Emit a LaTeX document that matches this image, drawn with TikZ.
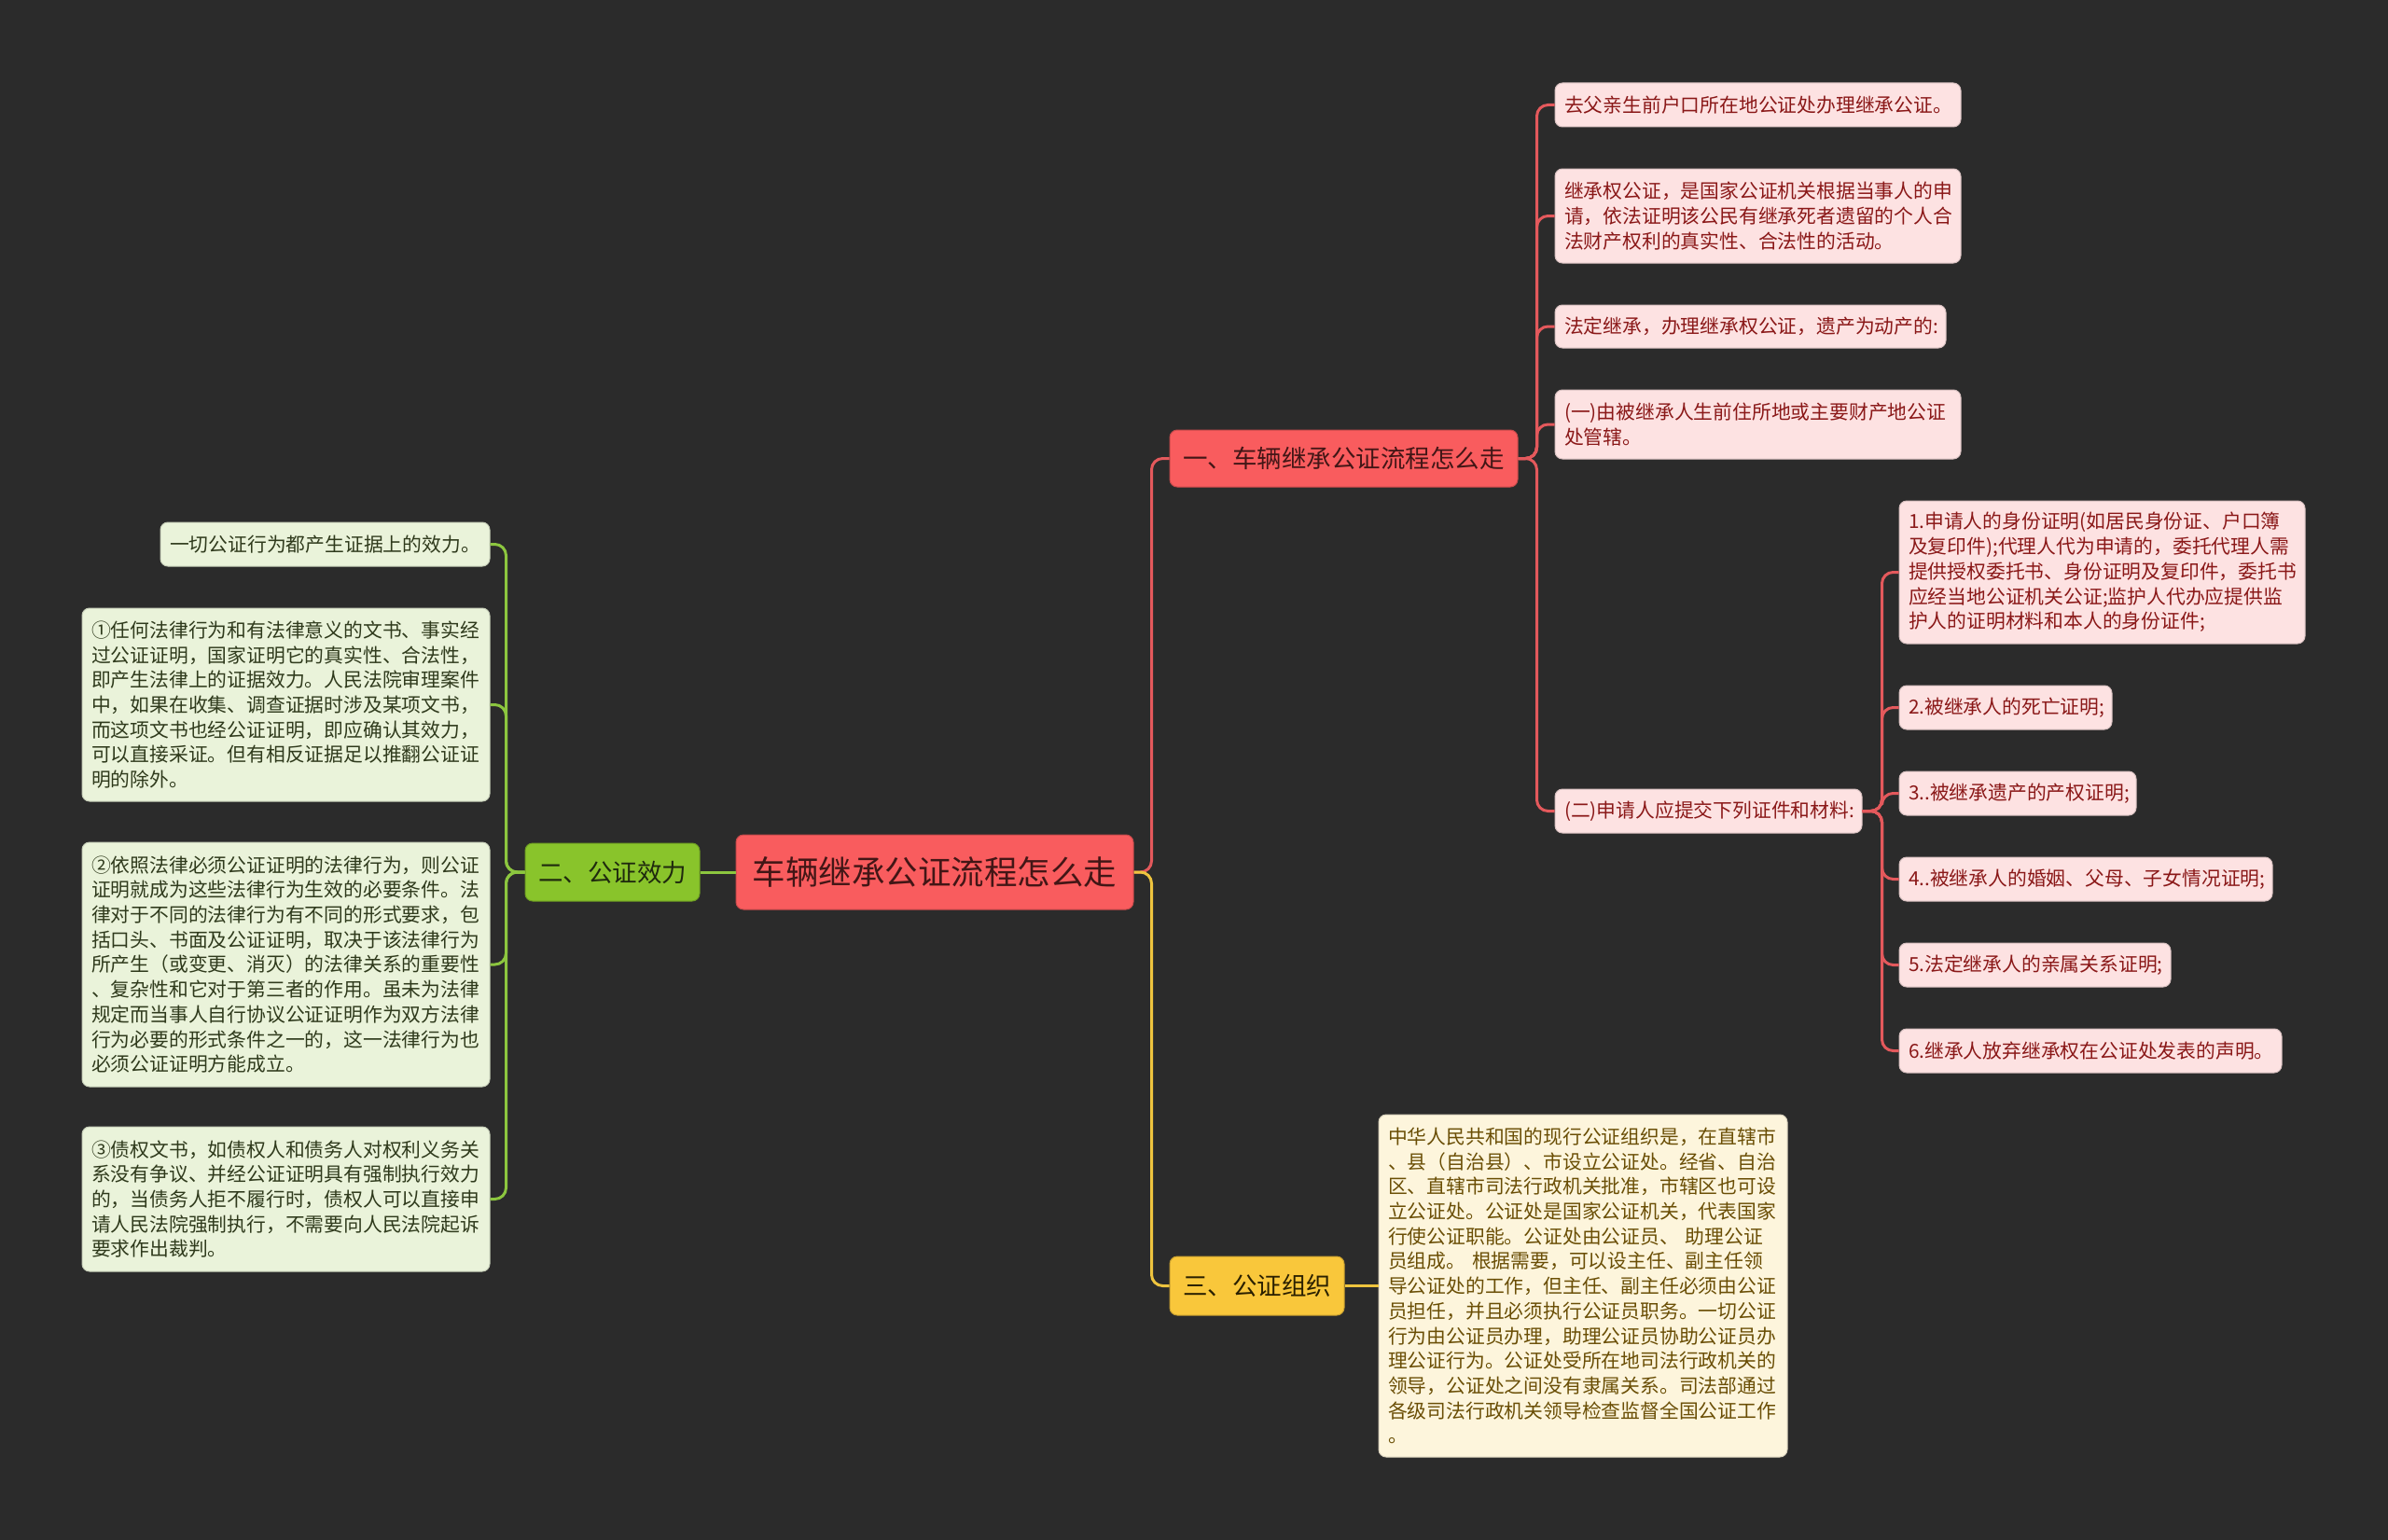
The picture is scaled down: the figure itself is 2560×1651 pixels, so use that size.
\documentclass[tikz,border=0pt]{standalone}
\usepackage{fontspec}
\setmainfont{Noto Sans CJK SC}
\definecolor{bg}{HTML}{2B2B2B}
\definecolor{redF}{HTML}{F95C5E}
\definecolor{redT}{HTML}{421616}
\definecolor{redL}{HTML}{E4595C}
\definecolor{pinkF}{HTML}{FDE2E2}
\definecolor{pinkT}{HTML}{8A1818}
\definecolor{greenF}{HTML}{89C42B}
\definecolor{greenT}{HTML}{1F2A0E}
\definecolor{greenL}{HTML}{8CC63F}
\definecolor{greenLF}{HTML}{EAF3DA}
\definecolor{greenLT}{HTML}{2F3A1C}
\definecolor{yelF}{HTML}{F9C73B}
\definecolor{yelT}{HTML}{2A2000}
\definecolor{yelL}{HTML}{EEC43E}
\definecolor{yelLF}{HTML}{FDF5DC}
\definecolor{yelLT}{HTML}{6A4E05}
\begin{document}
\begin{tikzpicture}[x=1pt,y=-1pt,
  cbox/.style={rounded corners=8pt, inner sep=0pt, align=center, line width=1pt},
  lbox/.style={rounded corners=8pt, inner xsep=10pt, inner ysep=0pt, align=left, line width=1pt,
    font=\fontsize{20.8}{26.7}\selectfont},
  rootbox/.style={cbox, fill=redF, draw=redF!80!black, text=redT, font=\fontsize{35.5}{40}\selectfont},
  redbox/.style={cbox, fill=redF, draw=redF!80!black, text=redT, font=\fontsize{26.5}{30}\selectfont},
  greenbox/.style={cbox, fill=greenF, draw=greenF!80!black, text=greenT, font=\fontsize{26.5}{30}\selectfont},
  yelbox/.style={cbox, fill=yelF, draw=yelF!80!black, text=yelT, font=\fontsize{26.5}{30}\selectfont},
  pinkleaf/.style={lbox, fill=pinkF, draw=pinkF!85!black, text=pinkT},
  greenleaf/.style={lbox, fill=greenLF, draw=greenLF!85!black, text=greenLT},
  yelleaf/.style={lbox, fill=yelLF, draw=yelLF!85!black, text=yelLT},
  conn/.style={line width=3pt, rounded corners=12pt},
  rconn/.style={conn, draw=redL},
  gconn/.style={conn, draw=greenL},
  yconn/.style={conn, draw=yelL}
]
\fill[bg] (0,0) rectangle (2560,1651);
\useasboundingbox (0,0) rectangle (2560,1651);

% main nodes
\node[rootbox, minimum width=426pt, minimum height=80pt] (root) at (1002,935) {车辆继承公证流程怎么走};
\node[redbox, minimum width=373pt, minimum height=61pt] (b1) at (1440.5,491.5) {一、车辆继承公证流程怎么走};
\node[greenbox, minimum width=187pt, minimum height=62pt] (b2) at (656.5,935) {二、公证效力};
\node[yelbox, minimum width=187pt, minimum height=63pt] (b3) at (1347.5,1378.5) {三、公证组织};

% branch 1 leaves
\node[pinkleaf, text width=415pt, minimum height=47pt] (l1) at (1884.5,112.5) {去父亲生前户口所在地公证处办理继承公证。};
\node[pinkleaf, text width=415pt, minimum height=101pt] (l2) at (1884.5,231.5) {继承权公证，是国家公证机关根据当事人的申\\请，依法证明该公民有继承死者遗留的个人合\\法财产权利的真实性、合法性的活动。};
\node[pinkleaf, text width=399pt, minimum height=46pt] (l3) at (1876.5,350) {法定继承，办理继承权公证，遗产为动产的:};
\node[pinkleaf, text width=415pt, minimum height=74pt] (l4) at (1884.5,455) {(一)由被继承人生前住所地或主要财产地公证\\处管辖。};
\node[pinkleaf, text width=309pt, minimum height=47pt] (l5) at (1831.5,869.5) {(二)申请人应提交下列证件和材料:};

\node[pinkleaf, text width=415pt, minimum height=153pt] (s1) at (2253.5,613.5) {1.申请人的身份证明(如居民身份证、户口簿\\及复印件);代理人代为申请的，委托代理人需\\提供授权委托书、身份证明及复印件，委托书\\应经当地公证机关公证;监护人代办应提供监\\护人的证明材料和本人的身份证件;};
\node[pinkleaf, text width=208pt, minimum height=47pt] (s2) at (2150,758.5) {2.被继承人的死亡证明;};
\node[pinkleaf, text width=234pt, minimum height=47pt] (s3) at (2163,850.5) {3..被继承遗产的产权证明;};
\node[pinkleaf, text width=380pt, minimum height=47pt] (s4) at (2236,942.5) {4..被继承人的婚姻、父母、子女情况证明;};
\node[pinkleaf, text width=271pt, minimum height=47pt] (s5) at (2181.5,1034.5) {5.法定继承人的亲属关系证明;};
\node[pinkleaf, text width=390pt, minimum height=47pt] (s6) at (2241,1126.5) {6.继承人放弃继承权在公证处发表的声明。};

% branch 2 leaves
\node[greenleaf, text width=333pt, minimum height=47pt] (g1) at (348.5,583.5) {一切公证行为都产生证据上的效力。};
\node[greenleaf, text width=417pt, minimum height=207pt] (g2) at (306.5,755.5) {①任何法律行为和有法律意义的文书、事实经\\过公证证明，国家证明它的真实性、合法性，\\即产生法律上的证据效力。人民法院审理案件\\中，如果在收集、调查证据时涉及某项文书，\\而这项文书也经公证证明，即应确认其效力，\\可以直接采证。但有相反证据足以推翻公证证\\明的除外。};
\node[greenleaf, text width=417pt, minimum height=262pt] (g3) at (306.5,1034) {②依照法律必须公证证明的法律行为，则公证\\证明就成为这些法律行为生效的必要条件。法\\律对于不同的法律行为有不同的形式要求，包\\括口头、书面及公证证明，取决于该法律行为\\所产生（或变更、消灭）的法律关系的重要性\\、复杂性和它对于第三者的作用。虽未为法律\\规定而当事人自行协议公证证明作为双方法律\\行为必要的形式条件之一的，这一法律行为也\\必须公证证明方能成立。};
\node[greenleaf, text width=417pt, minimum height=155pt] (g4) at (306.5,1285.5) {③债权文书，如债权人和债务人对权利义务关\\系没有争议、并经公证证明具有强制执行效力\\的，当债务人拒不履行时，债权人可以直接申\\请人民法院强制执行，不需要向人民法院起诉\\要求作出裁判。};

% branch 3 leaf
\node[yelleaf, text width=418pt, minimum height=367pt] (y1) at (1697,1378.5) {中华人民共和国的现行公证组织是，在直辖市\\、县（自治县）、市设立公证处。经省、自治\\区、直辖市司法行政机关批准，市辖区也可设\\立公证处。公证处是国家公证机关，代表国家\\行使公证职能。公证处由公证员、 助理公证\\员组成。 根据需要，可以设主任、副主任领\\导公证处的工作，但主任、副主任必须由公证\\员担任，并且必须执行公证员职务。一切公证\\行为由公证员办理，助理公证员协助公证员办\\理公证行为。公证处受所在地司法行政机关的\\领导，公证处之间没有隶属关系。司法部通过\\各级司法行政机关领导检查监督全国公证工作\\。};

% connectors
\draw[rconn] (root.east) -- ++(19,0) |- (b1.west);
\draw[yconn] (root.east) -- ++(19,0) |- (b3.west);
\draw[gconn] (root.west) -- (b2.east);
\draw[yconn] (b3.east) -- (y1.west);
\foreach \c in {l1,l2,l3,l4,l5}{
  \draw[rconn] (b1.east) -- ++(20,0) |- (\c.west);
}
\foreach \c in {s1,s2,s3,s4,s5,s6}{
  \draw[rconn] (l5.east) -- ++(21,0) |- (\c.west);
}
\foreach \c in {g1,g2,g3,g4}{
  \draw[gconn] (b2.west) -- ++(-20,0) |- (\c.east);
}
\end{tikzpicture}
\end{document}
